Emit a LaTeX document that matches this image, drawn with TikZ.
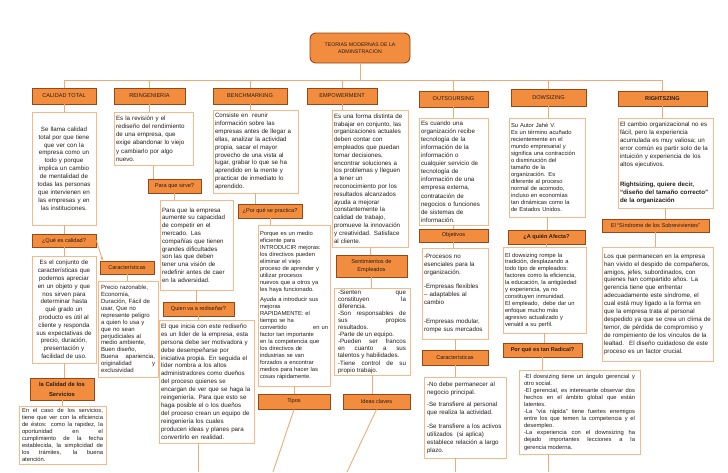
\documentclass[tikz,border=0pt]{standalone}
\usepackage{fontspec}
\setmainfont{Liberation Sans}
\usetikzlibrary{arrows.meta}

\definecolor{hdrfill}{RGB}{242,140,62}
\definecolor{hdrline}{RGB}{150,72,22}
\definecolor{boxline}{RGB}{246,186,138}
\definecolor{linkline}{RGB}{236,172,122}
\definecolor{txtcol}{RGB}{40,30,25}

\begin{document}
\begin{tikzpicture}[
  x=1pt,y=-1pt,
  hdr/.style={draw=hdrline, fill=hdrfill, line width=0.9pt, inner sep=1pt, align=center, text=txtcol, font=\fontsize{5.6}{6.6}\selectfont},
  txt/.style={draw=boxline, fill=white, line width=0.9pt, inner xsep=2pt, inner ysep=1pt, align=left, text=txtcol, font=\fontsize{6.2}{7.9}\selectfont},
  tight/.style={font=\fontsize{5.8}{7}\selectfont},
  link/.style={draw=linkline, line width=0.9pt},
  arr/.style={link, -{Stealth[length=3.5pt,width=3pt]}}
]
\useasboundingbox (0,0) rectangle (728,472);
\coordinate (bus) at (0,80);
\coordinate (pagefoot) at (0,472);
\coordinate (tiposend) at (273,472);
\coordinate (ideasend) at (347,472);

% title and main headers
\node[hdr, rounded corners=6pt, minimum width=100pt, minimum height=30pt, font=\fontsize{5.2}{7.5}\selectfont] (title) at (360,48) {TEORIAS MODERNAS DE LA\\ADMINSTRACION};
\node[hdr, minimum width=64pt, minimum height=16pt] (calidad) at (64,96) {CALIDAD TOTAL};
\node[hdr, minimum width=71pt, minimum height=16pt] (reing) at (149.5,96) {REINGENIERIA};
\node[hdr, minimum width=74pt, minimum height=16pt] (bench) at (250,96) {BENCHMARKING};
\node[hdr, minimum width=70pt, minimum height=16pt] (empow) at (342,96) {EMPOWERMENT};
\node[hdr, minimum width=69pt, minimum height=16pt] (outs) at (453.5,99) {OUTSOURSING};
\node[hdr, minimum width=75pt, minimum height=17pt] (dows) at (548.5,97.5) {DOWSIZING};
\node[hdr, minimum width=89pt, minimum height=15pt, font=\fontsize{5.6}{6.6}\selectfont\bfseries] (rights) at (662.5,98.5) {RIGHTSZING};

% calidad total
\node[txt, align=center, text width=60pt, minimum height=113pt] (calidadtxt) at (64,168.5) {Se llama calidad\\total por que tiene\\que ver con la\\empresa como un\\todo y porque\\implica un cambio\\de mentalidad de\\todas las personas\\que intervienen en\\las empresas y en\\las instituciones.};
\node[hdr, minimum width=64pt, minimum height=13pt] (queescal) at (64,240.5) {¿Qué es calidad?};
\node[txt, align=center, text width=60pt, minimum height=107pt, font=\fontsize{6.2}{7.8}\selectfont] (conjunto) at (64,309.5) {Es el conjunto de\\características que\\podemos apreciar\\en un objeto y que\\nos sirven para\\determinar hasta\\qué grado un\\producto es útil al\\cliente y responda\\sus expectativas de\\precio, duración,\\presentación y\\facilidad de uso.};
\node[hdr, minimum width=54pt, minimum height=13pt] (caract) at (127,267.5) {Características};
\node[txt, text width=54pt, inner xsep=3pt, minimum height=96pt, font=\fontsize{6}{6.9}\selectfont] (caracttxt) at (128,329) {Precio razonable,\\Economía,\\Duración, Fácil de\\usar, Que no\\represente peligro\\a quien lo usa y\\que no sean\\perjudiciales al\\medio ambiente,\\Buen diseño,\\Buena \hfill apariencia,\\originalidad \hfill y\\exclusividad};
\node[hdr, minimum width=64pt, minimum height=22pt, font=\fontsize{5.8}{10}\selectfont\bfseries] (serv) at (62,389) {la Calidad de los\\Servicios};
\node[txt, align=justify, text width=81pt, inner xsep=3pt, minimum height=58pt, tight] (servtxt) at (62.5,435) {En el caso de los servicios,\linebreak tiene que ver con la eficiencia\linebreak de éstos: como la rapidez, la\linebreak oportunidad en el\linebreak cumplimiento de la fecha\linebreak establecida, la simplicidad de\linebreak los trámites, la buena\linebreak atención.};

% reingenieria
\node[txt, text width=75pt, minimum height=53pt, font=\fontsize{6.2}{8.2}\selectfont] (reingtxt) at (153.5,138.5) {Es la revisión y el\\rediseño del rendimiento\\de una empresa, que\\exige abandonar lo viejo\\y cambiarlo por algo\\nuevo.};
\node[hdr, minimum width=53pt, minimum height=14pt] (parasirve) at (174.5,186) {Para que sirve?};
\node[txt, text width=69pt, minimum height=90pt, font=\fontsize{6.2}{7.8}\selectfont] (parasirvetxt) at (196.5,245) {Para que la empresa\\aumente su capacidad\\de competir en el\\mercado. Las\\compañías que tienen\\grandes dificultades\\son las que deben\\tener una visión de\\redefinir antes de caer\\en la adversidad.};
\node[hdr, minimum width=71pt, minimum height=14pt] (quien) at (198.5,309) {Quien va a rediseñar?};
\node[txt, text width=91pt, minimum height=123pt] (quientxt) at (206.5,381.5) {El que inicia con este rediseño\\es un líder de la empresa, esta\\persona debe ser motivadora y\\debe desempeñarse por\\iniciativa propia. En seguida el\\líder nombra a los altos\\administradores como dueños\\del proceso quienes se\\encargan de ver que se haga la\\reingeniería. Para que esto se\\haga posible el o los dueños\\del proceso crean un equipo de\\reingeniería los cuales\\producen ideas y planes para\\convertirlo en realidad.};

% benchmarking
\node[txt, text width=81pt, minimum height=83pt] (benchtxt) at (255.5,151.5) {Consiste en \ reunir\\información sobre las\\empresas antes de llegar a\\ellas, analizar la actividad\\propia, sacar el mayor\\provecho de una vista al\\lugar, grabar lo que se ha\\aprendido en la mente y\\practicar de inmediato lo\\aprendido.};
\node[hdr, minimum width=64pt, minimum height=14pt] (porque) at (270,211) {¿Por qué se practica?};
\node[txt, text width=68pt, minimum height=161pt, tight] (porquetxt) at (294,305.5) {Porque es un medio\\eficiente para\\INTRODUCIR mejoras:\\los directivos pueden\\eliminar el viejo\\proceso de aprender y\\utilizar procesos\\nuevos que a otros ya\\les haya funcionado.\\[3pt]Ayuda a introducir sus\\mejoras\\RAPIDAMENTE: el\\tiempo se ha\\convertido \hfill en un\\factor tan importante\\en la competencia que\\los directivos de\\industrias se van\\forzados a encontrar\\medios para hacer las\\cosas rápidamente.};
\node[hdr, minimum width=72pt, minimum height=15pt] (tipos) at (294,401.5) {Tipos};

% empowerment
\node[txt, text width=72pt, minimum height=137pt, font=\fontsize{6.2}{7.8}\selectfont] (empowtxt) at (370,178.5) {Es una forma distinta de\\trabajar en conjunto, las\\organizaciones actuales\\deben contar con\\empleados que puedan\\tomar decisiones,\\encontrar soluciones a\\los problemas y lleguen\\a tener un\\reconocimiento por los\\resultados alcanzados\\ayuda a mejorar\\constantemente la\\calidad de trabajo,\\promueve la innovación\\y creatividad. Satisface\\al cliente.};
\node[hdr, minimum width=71pt, minimum height=22pt, font=\fontsize{5.6}{8}\selectfont] (sentim) at (371.5,266) {Sentimientos de\\Empleados};
\node[txt, align=justify, text width=68pt, inner xsep=4pt, minimum height=87pt, font=\fontsize{6.2}{7.1}\selectfont] (sentimtxt) at (372,331.5) {-Sienten que\linebreak constituyen la\linebreak diferencia.\\-Son responsables de\linebreak sus propios\linebreak resultados.\\-Parte de un equipo.\\-Pueden ser francos\linebreak en cuanto a sus\linebreak talentos y habilidades.\\-Tiene control de su\linebreak propio trabajo.};
\node[hdr, minimum width=67pt, minimum height=15pt] (ideas) at (376.5,401.5) {Ideas claves};

% outsoursing
\node[txt, text width=65pt, minimum height=107pt, font=\fontsize{6.2}{8.1}\selectfont] (outstxt) at (453.5,171.5) {Es cuando una\\organización recibe\\tecnología de la\\información de la\\información o\\cualquier servicio de\\tecnología de\\información de una\\empresa externa,\\contratación de\\negocios o funciones\\de sistemas de\\información.};
\node[hdr, minimum width=69pt, minimum height=13pt] (objetivos) at (453.5,235.5) {Objetivos};
\node[txt, text width=62pt, minimum height=91pt, font=\fontsize{6.2}{8}\selectfont] (objtxt) at (455,293.5) {-Procesos no\\esenciales para la\\organización.\\[6pt]-Empresas flexibles\\– adaptables al\\cambio\\[11pt]-Empresas modular,\\rompe sus mercados};
\node[hdr, minimum width=66pt, minimum height=15pt] (caract2) at (455,357.5) {Características};
\node[txt, text width=76pt, inner xsep=3pt, minimum height=81pt, font=\fontsize{6.2}{8}\selectfont] (caract2txt) at (465,417.5) {-No debe permanecer al\\negocio principal.\\[4pt]-Se transfiere al personal\\que realiza la actividad.\\[6pt]-Se transfiere a los activos\\utilizados \ (si aplica)\\establece relación a largo\\plazo.};

% dowsizing
\node[txt, text width=72pt, minimum height=99pt, tight] (dowstxt) at (547,167.5) {Su Autor Jahé V.\\Es un término acuñado\\recientemente en el\\mundo empresarial y\\significa una contracción\\o disminución del\\tamaño de la\\organización. Es\\diferente al proceso\\normal de acomodo,\\incluso en economías\\tan dinámicas como la\\de Estados Unidos.};
\node[hdr, minimum width=77pt, minimum height=14pt, font=\fontsize{5.6}{6.6}\selectfont\bfseries] (aquien) at (546.5,237) {¿A quién Afecta?};
\node[txt, text width=79pt, minimum height=86pt, font=\fontsize{5.8}{6.9}\selectfont] (aquientxt) at (544.5,290) {El dowsizing rompe la\\tradición, desplazando a\\todo tipo de empleados:\\factores como la eficiencia,\\la educación, la antigüedad\\y experiencia, ya no\\constituyen inmunidad.\\El empleado, \ debe dar un\\enfoque mucho más\\agresivo actualizado y\\versátil a su perfil.};
\node[hdr, minimum width=79pt, minimum height=14pt, font=\fontsize{5.6}{6.6}\selectfont\bfseries] (radical) at (542.5,350) {Por qué es tan Radical?};
\node[txt, align=justify, text width=111pt, inner xsep=5pt, minimum height=84pt, font=\fontsize{5.8}{7.1}\selectfont] (radicaltxt) at (579.5,412) {-El dowsizing tiene un ángulo gerencial y\linebreak otro social.\\-El gerencial, es interesante observar dos\linebreak hechos en el ámbito global que están\linebreak latentes.\\-La “vía rápida” tiene fuertes enemigos\linebreak entre los que temen la competencia y el\linebreak desempleo.\\-La experiencia con el downsizing ha\linebreak dejado importantes lecciones a la\linebreak gerencia moderna.};

% rightsizing
\node[txt, text width=91pt, minimum height=90pt, font=\fontsize{6.2}{7.9}\selectfont] (rightstxt) at (665.5,163) {El cambio organizacional no es\\fácil, pero la experiencia\\acumulada es muy valiosa; un\\error común es partir solo de la\\intuición y experiencia de los\\altos ejecutivos.\\[12pt]\textbf{Rightsizing, quiere decir,}\\\textbf{“diseño del tamaño correcto”}\\\textbf{de la organización}};
\node[hdr, minimum width=107pt, minimum height=13pt] (sindrome) at (655.5,225.5) {El “Síndrome de los Sobrevivientes”};
\node[txt, text width=107pt, minimum height=114pt] (sindrometxt) at (657.5,304) {Los que permanecen en la empresa\\han vivido el despido de compañeros,\\amigos, jefes, subordinados, con\\quienes han compartido años. La\\gerencia tiene que enfrentar\\adecuadamente este síndrome, el\\cual está muy ligado a la forma en\\que la empresa trata al personal\\despedido ya que se crea un clima de\\temor, de pérdida de compromiso y\\de rompimiento de los vínculos de la\\lealtad. \ El diseño cuidadoso de este\\proceso es un factor crucial.};

% connectors
\draw[link] (calidad.north |- bus) -- (rights.north |- bus);
\draw[link] (title.south) -- (title.south |- bus);
\foreach \h in {calidad,reing,bench,empow,outs,dows,rights}
  \draw[link] (\h.north) -- (\h.north |- bus);
\foreach \a/\b in {calidad/calidadtxt, calidadtxt/queescal, queescal/conjunto, conjunto/serv, serv/servtxt,
    caract/caracttxt, reing/reingtxt, reingtxt/parasirve, parasirve/parasirvetxt, parasirvetxt/quien, quien/quientxt,
    bench/benchtxt, benchtxt/porque, porque/porquetxt, porquetxt/tipos,
    empow/empowtxt, empowtxt/sentim, sentim/sentimtxt, sentimtxt/ideas,
    outs/outstxt, outstxt/objetivos, objetivos/objtxt, objtxt/caract2, caract2/caract2txt,
    dows/dowstxt, dowstxt/aquien, aquien/aquientxt, aquientxt/radical, radical/radicaltxt,
    rights/rightstxt, rightstxt/sindrome, sindrome/sindrometxt}
  \draw[link] (\a.south) -- (\a.south |- \b.north);
\draw[arr] (queescal.east) -- ([xshift=3pt]caract.north west);
\draw[link] (quientxt.south -| quien) -- (quien |- pagefoot);
\draw[link] (tipos.south) -- (tiposend);
\draw[link] (ideas.south) -- (ideasend);
\draw[link] (caract2txt.south -| caract2) -- (caract2 |- pagefoot);
\draw[link] (radicaltxt.south -| dows) -- (dows |- pagefoot);
\end{tikzpicture}
\end{document}
